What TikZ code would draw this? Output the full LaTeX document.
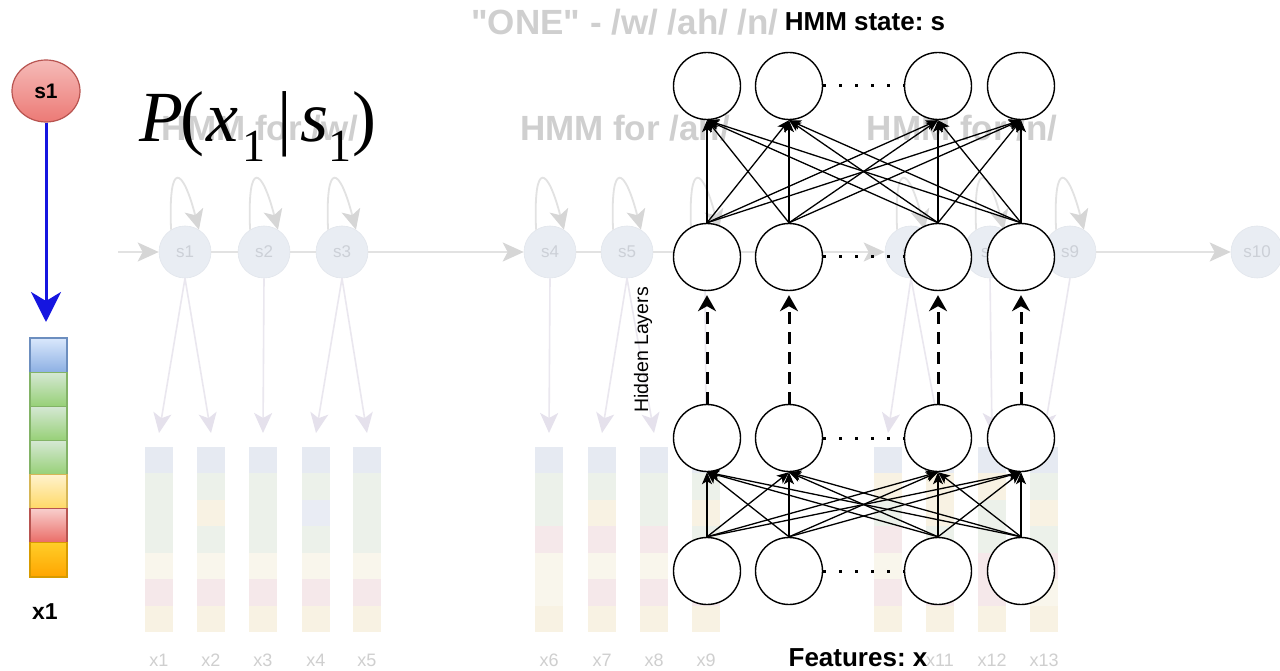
\documentclass[tikz,border=0pt]{standalone}
\usepackage{fontspec}
\setmainfont{Liberation Sans}
\newfontfamily\mathserif{Liberation Serif}
\newfontfamily\titlesans{Liberation Sans}[Ligatures=TeXOff]
\usetikzlibrary{arrows.meta,shapes.geometric}
\frenchspacing

% faded HMM chain in the background
\definecolor{bgtxt}{HTML}{CFCFCF}
\definecolor{bgfill}{HTML}{E9EDF3}
\definecolor{bgedge}{HTML}{E2E6EC}
\definecolor{bgstxt}{HTML}{CCD0D7}
\definecolor{bgline}{HTML}{E2E2E2}
\definecolor{bghead}{HTML}{D6D6D6}
\definecolor{bgemit}{HTML}{EAE7EF}
\definecolor{bgemhead}{HTML}{E5E1EC}
\definecolor{cb}{HTML}{E6EAF2}
\definecolor{cg}{HTML}{ECF1EA}
\definecolor{cy}{HTML}{F8F2E3}
\definecolor{cr}{HTML}{F5E8EA}
\definecolor{cl}{HTML}{F9F6EC}
\definecolor{cv}{HTML}{E9ECF4}
% feature vector in front
\definecolor{vblueA}{HTML}{DAE8FC}\definecolor{vblueB}{HTML}{8DB0E3}\definecolor{vblueD}{HTML}{6C8EBF}
\definecolor{vgreenA}{HTML}{D5E8D4}\definecolor{vgreenB}{HTML}{97D077}\definecolor{vgreenD}{HTML}{82B366}
\definecolor{vyelA}{HTML}{FFF2CC}\definecolor{vyelB}{HTML}{FFD966}\definecolor{vyelD}{HTML}{D6B656}
\definecolor{vredA}{HTML}{F8CECC}\definecolor{vredB}{HTML}{EA6B66}\definecolor{vredD}{HTML}{B85450}
\definecolor{vorA}{HTML}{FFCD28}\definecolor{vorB}{HTML}{FFA500}\definecolor{vorD}{HTML}{D79B00}
\definecolor{arrowblue}{HTML}{1515E0}

% a faded feature column: name, centre x, list of cell colours
\newcommand\featbar[3]{%
  \coordinate (#1) at (#2,433);
  \foreach \c [count=\i from 0] in {#3} {
    \fill[\c] (#2-14,447+\i*26.43) rectangle (#2+14,447+\i*26.43+26.43);
  }
}

\begin{document}
\begin{tikzpicture}[x=1pt,y=-1pt,
  bgstate/.style={circle,fill=bgfill,draw=bgedge,line width=0.6pt,minimum size=52pt,
    inner sep=0pt,text=bgstxt,font=\fontsize{17}{17}\selectfont},
  bgchain/.style={draw=bgline,line width=2pt},
  bgarrow/.style={bgchain,-{Stealth[length=21pt,width=19pt,inset=5pt,color=bghead]}},
  bgloop/.style={draw=bgline,line width=1.8pt,-{Stealth[length=20pt,width=19pt,inset=5pt,color=bghead]}},
  bgemitarrow/.style={draw=bgemit,line width=1.6pt,-{Stealth[length=20pt,width=18pt,inset=5pt,color=bgemhead]}},
  bgtitle/.style={text=bgtxt,font=\titlesans\fontsize{35}{35}\selectfont\bfseries},
  bglabel/.style={text=bgtxt,font=\fontsize{18}{18}\selectfont},
  neuron/.style={circle,draw=black,line width=1.4pt,fill=white,minimum size=67pt,inner sep=0pt},
  nnedge/.style={line width=1.3pt,-{Stealth[length=12pt,width=10pt,inset=3pt]}},
  nndash/.style={line width=3pt,dash pattern=on 12pt off 8pt,
    -{Stealth[length=16pt,width=18pt,inset=5pt]},shorten >=4pt},
  nndots/.style={line width=3pt,dash pattern=on 3pt off 13pt},
  lbl/.style={font=\fontsize{26}{26}\selectfont\bfseries},
]
\useasboundingbox[fill=white] (0,0) rectangle (1280,671);

% ---------- background: HMM for the word "ONE" ----------
\node[bgtitle,font=\titlesans\fontsize{35}{35}\selectfont\bfseries] (word) at (625,22) {"ONE" - /w/ /ah/ /n/};
\node[bgtitle] (hw) at (260,128) {HMM for /w/};
\node[bgtitle] (hah) at (625,128) {HMM for /ah/};
\node[bgtitle] (hn) at (962,128) {HMM for /n/};

\foreach \n/\x in {1/185,2/264,3/342,4/550,5/627,6/705,7/911,8/990,9/1070,10/1257}
  \node[bgstate] (h\n) at (\x,252) {s\n};

\coordinate (hin) at (118,252);
\draw[bgarrow] (hin) -- (h1);
\draw[bgchain] (h1) -- (h2);
\draw[bgchain] (h2) -- (h3);
\draw[bgarrow] (h3) -- (h4);
\draw[bgchain] (h4) -- (h5);
\draw[bgchain] (h5) -- (h6);
\draw[bgarrow] (h6) -- (h7);
\draw[bgchain] (h7) -- (h8);
\draw[bgchain] (h8) -- (h9);
\draw[bgarrow] (h9) -- (h10);

\foreach \n in {1,...,9}
  \draw[bgloop] (h\n.122) .. controls +(-3,-72) and +(-16,-62) .. (h\n.58);

% feature columns
\featbar{e1}{159}{cb,cg,cg,cg,cl,cr,cy}
\featbar{e2}{211}{cb,cg,cy,cg,cl,cr,cy}
\featbar{e3}{263}{cb,cg,cg,cg,cl,cr,cy}
\featbar{e4}{316}{cb,cg,cv,cg,cl,cr,cy}
\featbar{e5}{367}{cb,cg,cg,cg,cl,cr,cy}
\featbar{e6}{549}{cb,cg,cg,cr,cl,cl,cy}
\featbar{e7}{602}{cb,cg,cy,cr,cl,cr,cy}
\featbar{e8}{654}{cb,cg,cg,cr,cl,cr,cy}
\featbar{e9}{706}{cb,cg,cy,cg,cl,cr,cy}
\featbar{e10}{888}{cb,cy,cg,cr,cl,cr,cy}
\featbar{e11}{940}{cb,cy,cy,cg,cl,cr,cy}
\featbar{e12}{992}{cb,cy,cg,cg,cr,cr,cy}
\featbar{e13}{1044}{cb,cg,cy,cg,cr,cl,cy}

\foreach \n/\x in {1/159,2/211,3/263,4/316,5/367,6/549,7/602,8/654,9/706,11/940,12/992,13/1044}
  \node[bglabel] (lx\n) at (\x,660) {x\n};

% emissions
\foreach \s/\e in {1/1,1/2,2/3,3/4,3/5,4/6,5/7,5/8,6/9,7/10,7/11,8/12,9/13}
  \draw[bgemitarrow] (h\s.south) -- (e\e);

% ---------- single state and its observation ----------
\node[ellipse,minimum width=68pt,minimum height=62pt,inner sep=0pt,
  top color=vredA!80!vredB,bottom color=vredB!85!vredA,draw=vredD,line width=1.2pt,
  font=\fontsize{21}{21}\selectfont\bfseries] (st) at (46,91) {s1};
\coordinate (vtip) at (46,322);
\draw[arrowblue,line width=3pt,-{Stealth[length=30pt,width=30pt,inset=9pt]}] (st.south) -- (vtip);

\foreach \i/\ca/\cb/\cd in {0/vblueA/vblueB/vblueD,1/vgreenA/vgreenB/vgreenD,2/vgreenA/vgreenB/vgreenD,
    3/vgreenA/vgreenB/vgreenD,4/vyelA/vyelB/vyelD,5/vredA/vredB/vredD,6/vorA/vorB/vorD}
  \draw[top color=\ca,bottom color=\cb,draw=\cd,line width=1.2pt]
    (30,338+\i*34.14) rectangle (67,338+\i*34.14+34.14);

\node[font=\fontsize{23}{23}\selectfont\bfseries] (xone) at (45,612) {x1};

\node[anchor=base west,inner sep=0pt] (pxs) at (139,142)
  {\mathserif\fontsize{72}{72}\selectfont\itshape P\kern-3pt\upshape(\kern2pt\itshape x\upshape\kern4pt\raisebox{-20pt}{\fontsize{46}{46}\selectfont 1}\kern12pt|\kern9pt\itshape s\upshape\raisebox{-20pt}{\fontsize{46}{46}\selectfont 1}\kern1pt)};

% ---------- DNN on top ----------
\foreach \c/\x in {1/707,2/789,3/938,4/1021} {
  \node[neuron] (o\c) at (\x,86) {};
  \node[neuron] (a\c) at (\x,257) {};
  \node[neuron] (b\c) at (\x,438) {};
  \node[neuron] (i\c) at (\x,571) {};
}

\foreach \s in {1,...,4}
  \foreach \t in {1,...,4} {
    \draw[nnedge] (a\s.north) -- (o\t.south);
    \draw[nnedge] (i\s.north) -- (b\t.south);
  }

\foreach \c in {1,...,4}
  \draw[nndash] (b\c.north) -- (a\c.south);

\foreach \r in {o,a,b,i}
  \draw[nndots] (\r2.east) -- (\r3.west);

\node[lbl] (hmmlbl) at (865,22) {HMM state: s};
\node[lbl] (featlbl) at (858,658) {Features: x};
\node[rotate=90,font=\fontsize{19.5}{19.5}\selectfont] (hidlbl) at (643,350) {Hidden Layers};
\end{tikzpicture}
\end{document}
